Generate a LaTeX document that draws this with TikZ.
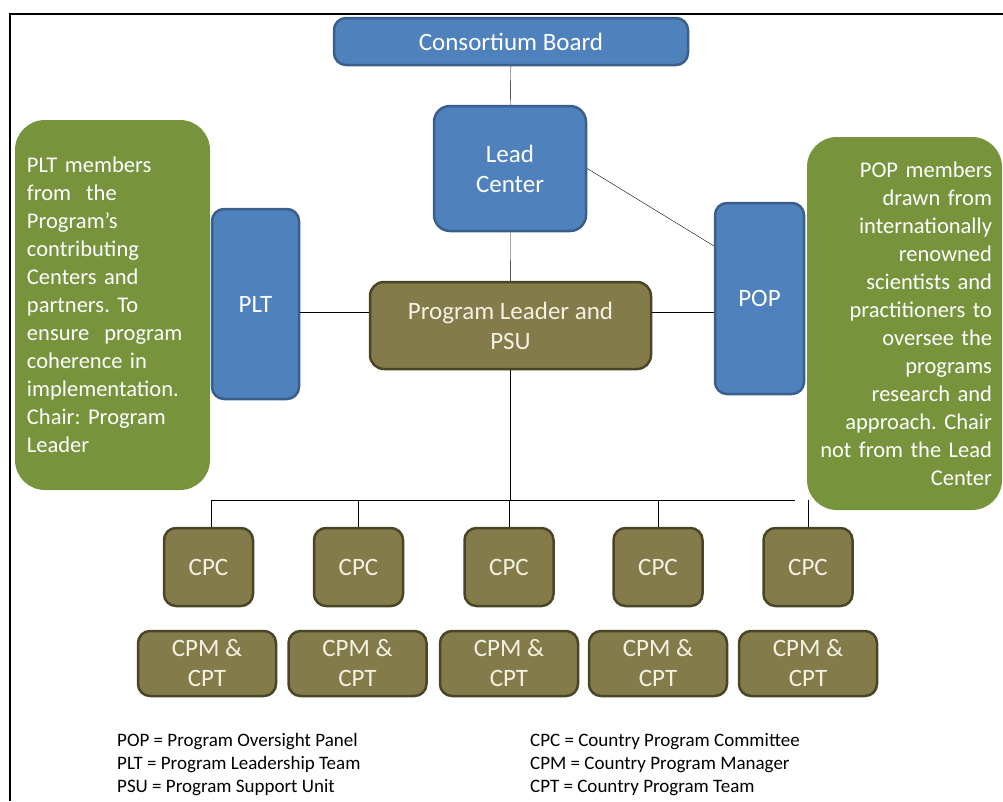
\documentclass[tikz,border=0pt]{standalone}
\usepackage{fontspec}
\setmainfont{Carlito}
\usepackage{xcolor}
\usetikzlibrary{positioning}
\definecolor{blueorg}{HTML}{4F81BD}
\definecolor{blueline}{HTML}{3A5F8C}
\definecolor{oliveorg}{HTML}{837C4A}
\definecolor{oliveline}{HTML}{4A4526}
\definecolor{olivetext}{HTML}{F4F1E2}
\definecolor{greenorg}{HTML}{77933C}
\tikzset{unitbox/.style={rectangle,rounded corners=12pt,line width=2.5pt,align=center,inner sep=0pt,font=\fontsize{25}{30}\selectfont},
  bluebox/.style={unitbox,draw=blueline,fill=blueorg,text=white},
  olivebox/.style={unitbox,draw=oliveline,fill=oliveorg,text=olivetext},
  notebox/.style={rectangle,rounded corners=30pt,fill=greenorg,text=white,inner xsep=12pt,text width=171pt,minimum height=370pt,font=\fontsize{22.5}{28}\selectfont},
  legend/.style={anchor=base west,inner sep=0pt,font=\fontsize{19}{23}\selectfont}}
\frenchspacing

\begin{document}
\begin{tikzpicture}[x=1pt,y=-1pt]
      \useasboundingbox (0,0) rectangle (1003,801);
      \draw[line width=2pt] (9.5,801) -- (9.5,13.5) -- (1003,13.5);

      \node[bluebox,minimum width=354pt,minimum height=47pt] (board) at (511,41.5) {Consortium Board};
      \node[bluebox,minimum width=152pt,minimum height=125pt,rounded corners=16pt] (lead) at (510,168.5) {Lead\\Center};
      \node[olivebox,minimum width=281pt,minimum height=87pt,rounded corners=14pt] (plead) at (510.5,325.5) {Program Leader and\\PSU};
      \node[bluebox,minimum width=87pt,minimum height=190pt] (plt) at (255.5,304) {PLT};
      \node[bluebox,minimum width=89pt,minimum height=191pt] (pop) at (759.5,298.5) {POP};

      \node[notebox,align=left] (pltnote) at (112.5,305) {PLT members\\from~ the\\Program’s\\contributing\\Centers and\\partners. To\\ensure~ program\\coherence in\\implementation.\\Chair: Program\\Leader};
      \node[notebox,align=right,minimum height=373pt,inner xsep=10pt,text width=175pt] (popnote) at (904.5,323.5) {POP members\\drawn from\\internationally\\renowned\\scientists and\\practitioners to\\oversee the\\programs\\research and\\approach. Chair\\not from the Lead\\Center};

      \coordinate (plmid) at ([yshift=13pt]plead.west);
      \draw (board) -- (lead);
      \draw (lead) -- (plead);
      \draw (plmid) -- (plmid -| plt.east);
      \draw (plead.east |- plmid) -- (plmid -| pop.west);
      \draw (lead.east) -- (pop.131);

      \node[olivebox,minimum width=89pt,minimum height=78pt] (cpc1) at (208.5,567) {CPC};
      \node[olivebox,minimum width=89pt,minimum height=78pt] (cpc2) at (358.5,567) {CPC};
      \node[olivebox,minimum width=89pt,minimum height=78pt] (cpc3) at (509,567) {CPC};
      \node[olivebox,minimum width=89pt,minimum height=78pt] (cpc4) at (658,567) {CPC};
      \node[olivebox,minimum width=89pt,minimum height=78pt] (cpc5) at (808,567) {CPC};
      \node[olivebox,minimum width=138pt,minimum height=65pt] (cpm1) at (207,663.5) {CPM \&\\CPT};
      \node[olivebox,minimum width=138pt,minimum height=65pt] (cpm2) at (357.5,663.5) {CPM \&\\CPT};
      \node[olivebox,minimum width=138pt,minimum height=65pt] (cpm3) at (509,663.5) {CPM \&\\CPT};
      \node[olivebox,minimum width=138pt,minimum height=65pt] (cpm4) at (658,663.5) {CPM \&\\CPT};
      \node[olivebox,minimum width=138pt,minimum height=65pt] (cpm5) at (808,663.5) {CPM \&\\CPT};

      \coordinate (busl) at (211,500);
      \coordinate (busr) at (795,500);
      \draw (busl) -- (busr);
      \draw (plead) -- (plead |- busl);
      \draw (cpc1.north -| busl) -- (busl);
      \draw (cpc2) -- (cpc2 |- busl);
      \draw (cpc3) -- (cpc3 |- busl);
      \draw (cpc4) -- (cpc4 |- busl);
      \draw (cpc5) -- (cpc5 |- busl);

      \node[legend] (legpop) at (117,746) {POP = Program Oversight Panel};
      \node[legend] (legplt) at (117,769) {PLT = Program Leadership Team};
      \node[legend] (legpsu) at (117,792) {PSU = Program Support Unit};
      \node[legend] (legcpc) at (530,746) {CPC = Country Program Committee};
      \node[legend] (legcpm) at (530,769) {CPM = Country Program Manager};
      \node[legend] (legcpt) at (530,792) {CPT = Country Program Team};
\end{tikzpicture}
\end{document}
